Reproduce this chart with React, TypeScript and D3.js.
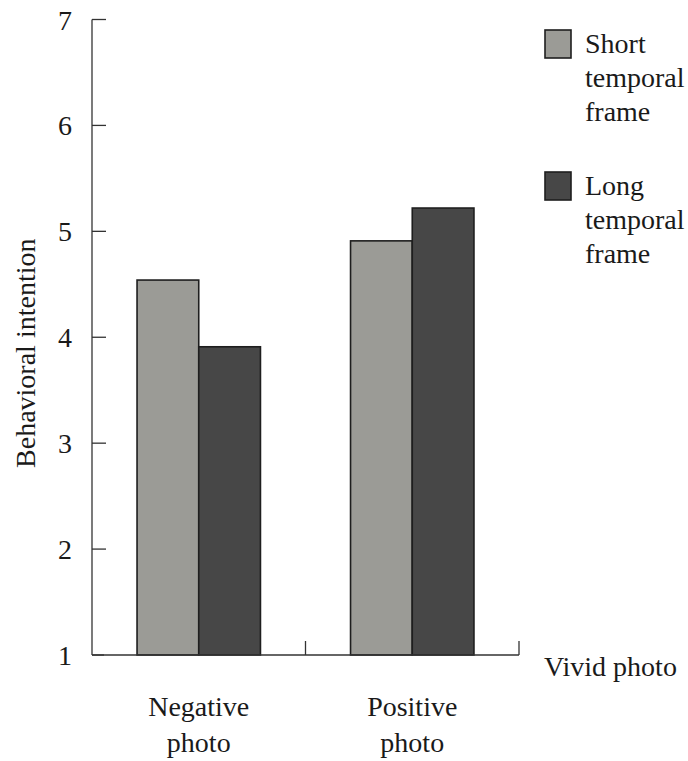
import React from "react";
import * as d3 from "d3";

const categories = ["Negative photo", "Positive photo"];
const series = ["Short temporal frame", "Long temporal frame"];
const shortValues = [4.54, 4.91];
const longValues = [3.91, 5.22];
const yTicks = [1, 2, 3, 4, 5, 6, 7];
const colors = ["#9b9b96", "#474747"];

export default function App() {
  const W = 688, H = 761;
  const x0 = 92, x1 = 519, yTop = 19.5, yBot = 655;
  const y = d3.scaleLinear().domain([1, 7]).range([yBot, yTop]);
  const xBand = d3.scaleBand().domain(categories).range([x0, x1]).paddingInner(0).paddingOuter(0);
  const inner = d3.scaleBand().domain(series).range([0, xBand.bandwidth()]).paddingInner(0).paddingOuter(0.73);
  const font = "'Liberation Serif', 'Times New Roman', serif";
  const fs = 28;
  const data = categories.map((c, i) => ({ c, vals: [shortValues[i], longValues[i]] }));
  return (
    <svg width={W} height={H} style={{ position: "absolute", left: 0, top: 0, background: "#fff" }} fontFamily={font}>
      {/* y axis */}
      <line x1={x0} x2={x0} y1={yTop} y2={yBot} stroke="#333" strokeWidth={1.3} />
      {yTicks.map((t) => (
        <g key={t}>
          <line x1={x0} x2={t === 1 ? x0 + 12 : x0 + 14} y1={y(t)} y2={y(t)} stroke="#333" strokeWidth={1.3} />
          <text x={72} y={y(t) + 10} textAnchor="end" fontSize={fs} fill="#1a1a1a">{t}</text>
        </g>
      ))}
      <text transform={`translate(35,${(yTop + yBot) / 2 + 16}) rotate(-90)`} textAnchor="middle" fontSize={fs} fill="#1a1a1a">
        Behavioral intention
      </text>
      {/* bars */}
      {data.map((d) => (
        <g key={d.c} transform={`translate(${xBand(d.c)},0)`}>
          {series.map((s, j) => (
            <rect key={s} x={inner(s)} width={inner.bandwidth()} y={y(d.vals[j])} height={yBot - y(d.vals[j])}
              fill={colors[j]} stroke="#1e1e1e" strokeWidth={1.6} />
          ))}
        </g>
      ))}
      {/* x axis */}
      <line x1={x0} x2={x1} y1={yBot} y2={yBot} stroke="#333" strokeWidth={1.3} />
      {[x0 + xBand.bandwidth(), x1].map((xx, i) => (
        <line key={i} x1={xx} x2={xx} y1={yBot} y2={yBot - 14} stroke="#333" strokeWidth={1.3} />
      ))}
      {categories.map((c) => {
        const cx = (xBand(c) as number) + xBand.bandwidth() / 2;
        const parts = c.split(" ");
        return (
          <text key={c} x={cx} textAnchor="middle" fontSize={fs} fill="#1a1a1a">
            <tspan x={cx} y={716}>{parts[0]}</tspan>
            <tspan x={cx} y={752}>{parts[1]}</tspan>
          </text>
        );
      })}
      <text x={544} y={676} fontSize={fs} fill="#1a1a1a">Vivid photo</text>
      {/* legend */}
      {series.map((s, i) => {
        const top = 30 + i * 142;
        const words = s.split(" ");
        return (
          <g key={s}>
            <rect x={545} y={top} width={26} height={28} fill={colors[i]} stroke="#1e1e1e" strokeWidth={1.6} />
            {words.map((w, k) => (
              <text key={k} x={585} y={top + 23 + k * 34} fontSize={fs} fill="#1a1a1a">{w}</text>
            ))}
          </g>
        );
      })}
    </svg>
  );
}
